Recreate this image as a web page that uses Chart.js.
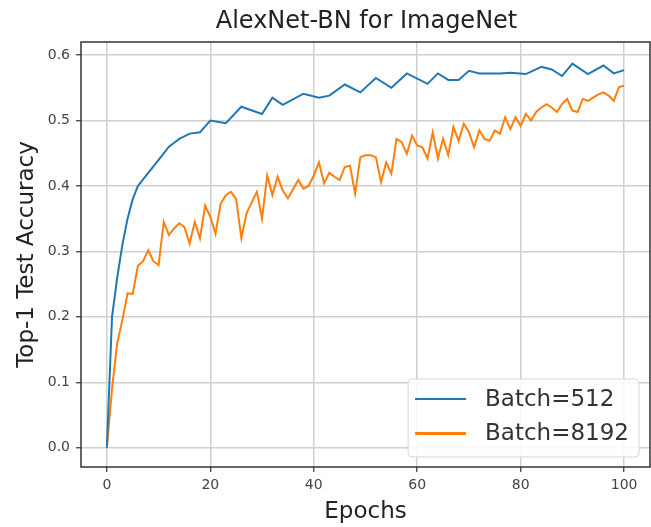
<!DOCTYPE html>
<html>
<head>
<meta charset="utf-8">
<script src="https://cdn.jsdelivr.net/npm/chart.js@4/dist/chart.umd.min.js"></script>
<style>
  html, body { margin: 0; padding: 0; background: #fff; }
  #wrap { width: 651px; height: 527px; }
</style>
</head>
<body>
<div id="wrap"><canvas id="c" width="651" height="527"></canvas></div>
<script>
// ---- data ----
const chartTitle = "AlexNet-BN for ImageNet";
const xTitle = "Epochs";
const yTitle = "Top-1 Test Accuracy";
const seriesNames = ["Batch=512", "Batch=8192"];
const xTicks = [0, 20, 40, 60, 80, 100];
const yTicks = [0.0, 0.1, 0.2, 0.3, 0.4, 0.5, 0.6];

const epochs512 = [0, 1, 2, 3, 4, 5, 6, 8, 10, 12, 14, 16, 18, 20, 23, 26, 30, 32, 34, 38, 41, 43, 46, 49, 52, 55, 58, 62, 64, 66, 68, 70, 72, 76, 78, 81, 84, 86, 88, 90, 93, 96, 98, 100];
const acc512 = [0.0, 0.20, 0.26, 0.31, 0.35, 0.38, 0.40, 0.42, 0.44, 0.46, 0.472, 0.48, 0.482, 0.50, 0.496, 0.521, 0.51, 0.535, 0.524, 0.541, 0.535, 0.538, 0.555, 0.543, 0.565, 0.55, 0.572, 0.556, 0.572, 0.562, 0.562, 0.576, 0.572, 0.572, 0.573, 0.571, 0.582, 0.578, 0.568, 0.587, 0.571, 0.584, 0.572, 0.577];

const epochs8192 = [0,1,2,3,4,5,6,7,8,9,10,11,12,13,14,15,16,17,18,19,20,21,22,23,24,25,26,27,28,29,30,31,32,33,34,35,36,37,38,39,40,41,42,43,44,45,46,47,48,49,50,51,52,53,54,55,56,57,58,59,60,61,62,63,64,65,66,67,68,69,70,71,72,73,74,75,76,77,78,79,80,81,82,83,84,85,86,87,88,89,90,91,92,93,94,95,96,97,98,99,100];
const acc8192 = [0.0, 0.09, 0.16, 0.195, 0.236, 0.235, 0.278, 0.285, 0.302, 0.285, 0.279,
  0.345, 0.325, 0.335, 0.343, 0.337, 0.312, 0.345, 0.32, 0.37, 0.353,
  0.327, 0.373, 0.386, 0.391, 0.38, 0.32, 0.358, 0.375, 0.391, 0.35,
  0.416, 0.386, 0.414, 0.393, 0.381, 0.395, 0.409, 0.396, 0.40, 0.416,
  0.436, 0.404, 0.42, 0.414, 0.409, 0.429, 0.431, 0.388, 0.444, 0.447,
  0.447, 0.444, 0.406, 0.436, 0.419, 0.472, 0.467, 0.449, 0.477, 0.462,
  0.459, 0.442, 0.482, 0.442, 0.472, 0.447, 0.49, 0.469, 0.495, 0.482,
  0.459, 0.485, 0.472, 0.469, 0.485, 0.48, 0.505, 0.487, 0.505, 0.492,
  0.51, 0.50, 0.513, 0.52, 0.525, 0.52, 0.513, 0.525, 0.533, 0.515,
  0.513, 0.533, 0.53, 0.535, 0.54, 0.543, 0.538, 0.53, 0.551, 0.553];

const colors = ["#1f77b4", "#ff7f0e"];
const FONT = "'DejaVu Sans', sans-serif";

// frame (matplotlib-style box around the plot area)
const framePlugin = {
  id: 'frame',
  afterDraw(chart) {
    const {ctx, chartArea: a} = chart;
    ctx.save();
    ctx.strokeStyle = '#333';
    ctx.lineWidth = 1.5;
    ctx.strokeRect(a.left, a.top, a.right - a.left, a.bottom - a.top);
    ctx.restore();
  }
};

// title centred over the plot area (as matplotlib does)
const axesTitle = {
  id: 'axesTitle',
  afterDraw(chart) {
    const {ctx, chartArea: a} = chart;
    ctx.save();
    ctx.font = "24px " + FONT;
    ctx.fillStyle = '#222';
    ctx.textAlign = 'center';
    ctx.textBaseline = 'middle';
    ctx.fillText(chartTitle, (a.left + a.right) / 2 + 1, 22);
    ctx.restore();
  }
};

// legend drawn inside the plot area (lower right)
const innerLegend = {
  id: 'innerLegend',
  afterDraw(chart) {
    const {ctx, chartArea: a} = chart;
    const ds = chart.data.datasets;
    ctx.save();
    ctx.font = "23px " + FONT;
    let tw = 0;
    ds.forEach(d => { tw = Math.max(tw, ctx.measureText(d.label).width); });
    const padL = 7, lineLen = 51, gap = 19, padR = 10, rowH = 34.4;
    const w = padL + lineLen + gap + tw + padR;
    const h = 78;
    const x0 = a.right - 11 - w;
    const y0 = a.bottom - 10 - h;
    ctx.beginPath();
    if (ctx.roundRect) ctx.roundRect(x0, y0, w, h, 4); else ctx.rect(x0, y0, w, h);
    ctx.fillStyle = 'rgba(255,255,255,0.85)';
    ctx.fill();
    ctx.strokeStyle = '#d6d6d6';
    ctx.lineWidth = 1;
    ctx.stroke();
    ds.forEach((d, i) => {
      const cy = y0 + 20 + i * rowH;
      ctx.beginPath();
      ctx.moveTo(x0 + padL, cy);
      ctx.lineTo(x0 + padL + lineLen, cy);
      ctx.strokeStyle = d.borderColor;
      ctx.lineWidth = i === 0 ? 2 : 3;
      ctx.stroke();
      ctx.fillStyle = '#333';
      ctx.textBaseline = 'middle';
      ctx.textAlign = 'left';
      ctx.fillText(d.label, x0 + padL + lineLen + gap, cy + 1);
    });
    ctx.restore();
  }
};

const data = {
  datasets: [
    {
      label: seriesNames[0],
      data: epochs512.map((e, i) => ({x: e, y: acc512[i]})),
      borderColor: colors[0],
      borderWidth: 2,
      pointRadius: 0,
      tension: 0,
      fill: false
    },
    {
      label: seriesNames[1],
      data: epochs8192.map((e, i) => ({x: e, y: acc8192[i]})),
      borderColor: colors[1],
      borderWidth: 2,
      pointRadius: 0,
      tension: 0,
      fill: false
    }
  ]
};

new Chart(document.getElementById('c'), {
  type: 'line',
  data,
  options: {
    responsive: false,
    animation: false,
    devicePixelRatio: 1,
    layout: { padding: { left: 0, right: 1, top: 42, bottom: 0 } },
    plugins: {
      legend: { display: false },
      tooltip: { enabled: false },
      title: { display: false }
    },
    scales: {
      x: {
        type: 'linear',
        min: -5,
        max: 105,
        afterBuildTicks: s => { s.ticks = xTicks.map(v => ({value: v})); },
        afterFit: s => { s.height = 60; s.paddingLeft = 0; s.paddingRight = 0; },
        grid: { color: '#d0d0d0', lineWidth: 1.5, drawTicks: true, tickLength: 5, tickColor: '#333', tickWidth: 1.2 },
        border: { display: false },
        ticks: {
          color: '#444',
          font: { family: FONT, size: 14 },
          padding: 5,
          maxRotation: 0,
          callback: v => String(v)
        },
        title: {
          display: true,
          text: xTitle,
          color: '#222',
          font: { family: FONT, size: 23, lineHeight: 1.2 },
          padding: { top: 0, bottom: 1 }
        }
      },
      y: {
        type: 'linear',
        min: -0.0295,
        max: 0.62,
        afterBuildTicks: s => { s.ticks = yTicks.map(v => ({value: v})); },
        afterFit: s => { s.width = 81; s.paddingTop = 0; s.paddingBottom = 0; },
        grid: { color: '#d0d0d0', lineWidth: 1.5, drawTicks: true, tickLength: 5, tickColor: '#333', tickWidth: 1.2 },
        border: { display: false },
        ticks: {
          color: '#444',
          font: { family: FONT, size: 14 },
          padding: 6,
          callback: v => Number(v).toFixed(1)
        },
        title: {
          display: true,
          text: yTitle,
          color: '#222',
          font: { family: FONT, size: 23, lineHeight: 1.2 },
          padding: { top: 13, bottom: 0 }
        }
      }
    }
  },
  plugins: [framePlugin, axesTitle, innerLegend]
});
</script>
</body>
</html>
